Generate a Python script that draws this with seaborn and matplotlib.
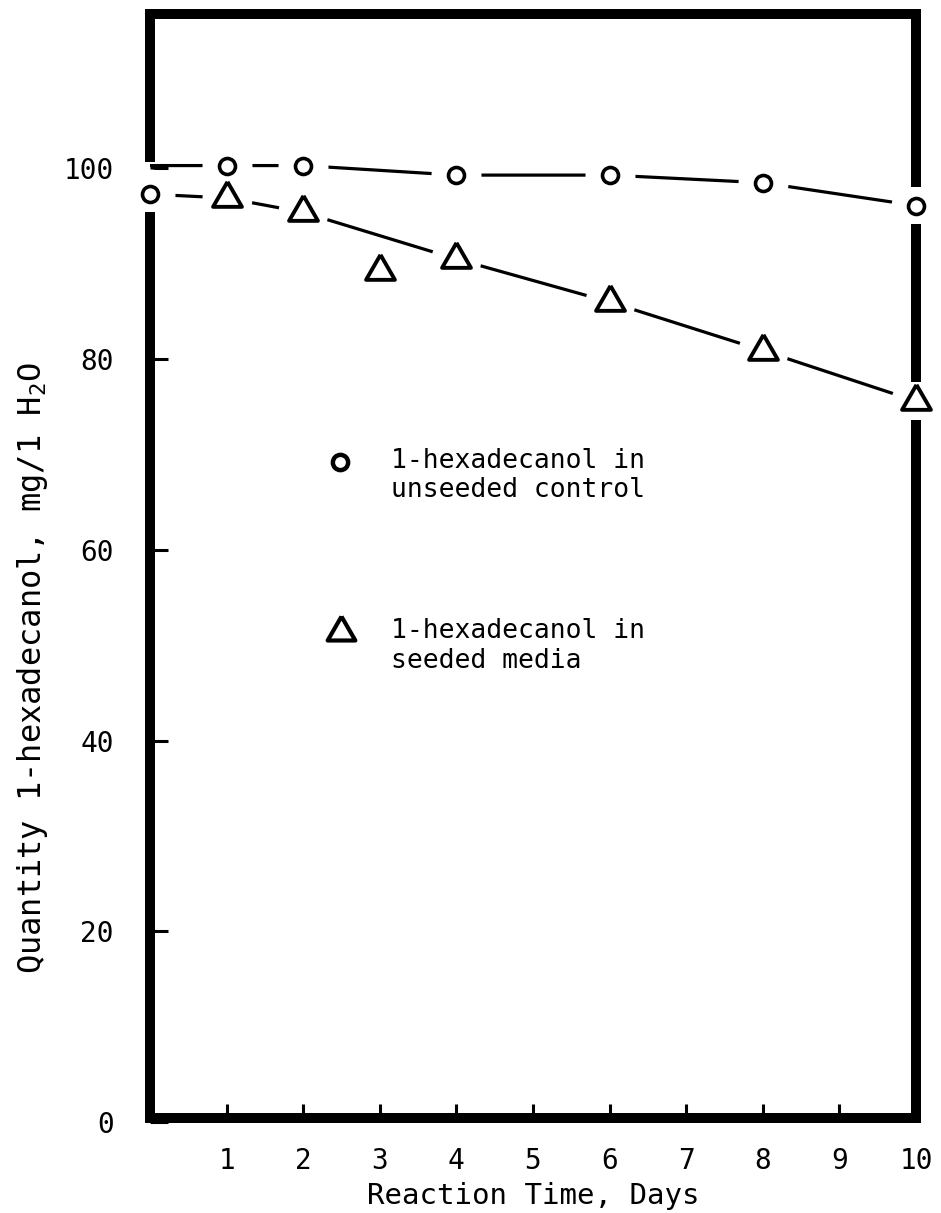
import numpy as np
import pandas as pd
import matplotlib
matplotlib.use("Agg")
import matplotlib.pyplot as plt
import seaborn as sns

# ---------------- data ----------------
ctrl_days = [0, 1, 2, 4, 6, 8, 10]
ctrl_vals = [100.3, 100.3, 100.3, 99.3, 99.3, 98.5, 96.1]

seed_days = [0, 1, 2, 3, 4, 6, 8, 10]
seed_vals = [97.3, 96.9, 95.4, 89.2, 90.5, 86.0, 80.9, 75.6]
seed_on_line = [True, True, True, False, True, True, True, True]

x_ticks = [1, 2, 3, 4, 5, 6, 7, 8, 9, 10]
y_ticks = [0, 20, 40, 60, 80, 100]
legend_labels = [("1-hexadecanol in", "unseeded control"),
                 ("1-hexadecanol in", "seeded media")]
x_label = "Reaction Time, Days"
y_label = "Quantity 1-hexadecanol, mg/1 H$_2$O"

# ---------------- style ----------------
sns.set_theme(style="white")
plt.rcParams["font.family"] = ["DejaVu Sans Mono", "DejaVu Sans"]
plt.rcParams["mathtext.default"] = "regular"

fig = plt.figure(figsize=(9.41, 12.13), dpi=100)
ax = fig.add_axes([0.1594, 0.075, 0.814, 0.9135])
ax.set_xlim(0, 10)
ax.set_ylim(0.4, 116.2)
for s in ax.spines.values():
    s.set_visible(False)

ctrl = pd.DataFrame({"day": ctrl_days, "val": ctrl_vals})
seed = pd.DataFrame({"day": seed_days, "val": seed_vals, "on": seed_on_line})
seed_line = seed[seed["on"]]

# lines
sns.lineplot(data=ctrl, x="day", y="val", color="black", lw=2.3, ax=ax,
             sort=False, zorder=2)
sns.lineplot(data=seed_line, x="day", y="val", color="black", lw=2.3, ax=ax,
             sort=False, zorder=2)

# white halos to break lines around markers
ctrl_m = ctrl.iloc[1:]
halo = pd.concat([ctrl_m[["day", "val"]], seed[["day", "val"]]])
ax.plot(halo["day"].to_numpy(), halo["val"].to_numpy(), ls="none",
        marker="o", ms=36, mfc="white", mec="white", mew=0, zorder=3,
        clip_on=False)

tri = [(0, 0.577), (-0.5, -0.289), (0.5, -0.289), (0, 0.577)]
# markers
sns.scatterplot(data=ctrl_m, x="day", y="val", marker="o", s=11.5 ** 2,
                facecolor="white", edgecolor="black", linewidth=2.6,
                ax=ax, zorder=5, clip_on=False)
sns.scatterplot(data=seed.iloc[:1], x="day", y="val", marker="o", s=11.5 ** 2,
                facecolor="white", edgecolor="black", linewidth=2.6,
                ax=ax, zorder=5, clip_on=False)
sns.scatterplot(data=seed.iloc[1:], x="day", y="val", marker=tri, s=24 ** 2,
                facecolor="white", edgecolor="black", linewidth=2.8,
                ax=ax, zorder=5, clip_on=False)

# heavy frame with gaps where the end points sit
frame_kw = dict(color="black", lw=7.2, solid_capstyle="projecting",
                clip_on=False, zorder=4)
ymin, ymax = ax.get_ylim()
ax.plot([0, 10], [ymax, ymax], **frame_kw)
ax.plot([0, 10], [ymin, ymin], **frame_kw)
l_hi = max(ctrl_vals[0], seed_vals[0]) + 0.9
l_lo = min(ctrl_vals[0], seed_vals[0]) - 2.4
ax.plot([0, 0], [ymax, l_hi], **frame_kw)
ax.plot([0, 0], [l_lo, ymin], **frame_kw)
g = 2.5
ax.plot([10, 10], [ymax, ctrl_vals[-1] + g], **frame_kw)
ax.plot([10, 10], [ctrl_vals[-1] - g, seed_vals[-1] + g], **frame_kw)
ax.plot([10, 10], [seed_vals[-1] - g, ymin], **frame_kw)

# ticks
ax.set_xticks(x_ticks)
ax.set_xticklabels([str(t) for t in x_ticks])
ax.set_yticks(y_ticks)
ax.set_yticklabels([str(t) for t in y_ticks])
ax.tick_params(axis="x", direction="in", length=13, width=2.2, pad=18,
               labelsize=20, colors="black", bottom=True)
ax.tick_params(axis="y", direction="in", length=13, width=2.2, pad=26,
               labelsize=20, colors="black", left=True)
ax.set_xlabel(x_label, fontsize=21, color="black")
ax.xaxis.set_label_coords(0.5, -0.054)
ax.set_ylabel(y_label, fontsize=23, color="black")
ax.yaxis.set_label_coords(-0.13, 0.41)
ax.grid(False)

# legend (hand-placed, as in the original)
ax.plot([0.248], [0.596], transform=ax.transAxes, marker="o", ms=11,
        mfc="white", mec="black", mew=3.2, ls="none", clip_on=False)
ax.plot([0.250], [0.442], transform=ax.transAxes, marker=tri, ms=23,
        mfc="white", mec="black", mew=3.0, ls="none", clip_on=False)
for (l1, l2), yy in zip(legend_labels, [0.597, 0.443]):
    ax.text(0.315, yy, l1, transform=ax.transAxes, fontsize=19,
            va="center", ha="left", color="black")
    ax.text(0.315, yy - 0.027, l2, transform=ax.transAxes, fontsize=19,
            va="center", ha="left", color="black")

fig.savefig("out.png", dpi=100)
